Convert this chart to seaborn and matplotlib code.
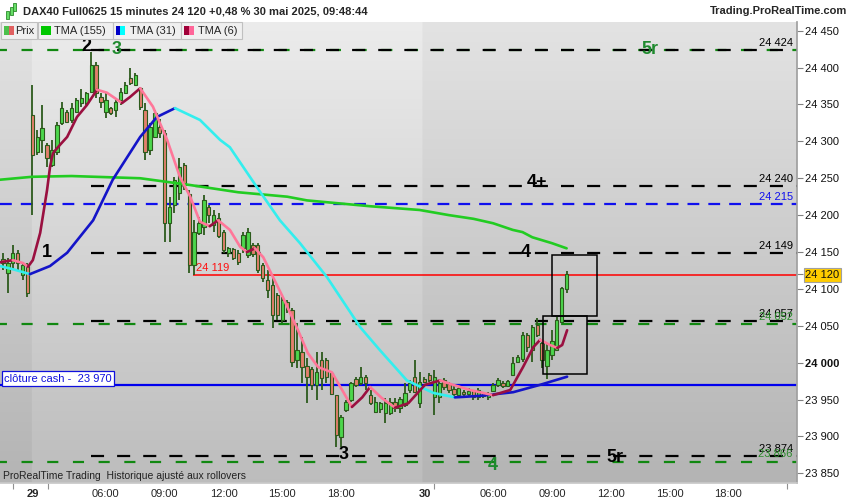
import numpy as np
import matplotlib
matplotlib.use("Agg")
import matplotlib.pyplot as plt
from matplotlib.patches import Rectangle
import seaborn as sns

# 15 minute bars, index 0 = first visible bar, last bar = 30 mai 09:45
opens = [24140, 24122, 24135, 24149, 24119, 24131, 24336, 24285, 24302, 24295,
         24268, 24285, 24325, 24340, 24329, 24340, 24352, 24352, 24367, 24403,
         24360, 24340, 24345, 24342, 24356, 24366, 24386, 24377, 24372, 24343,
         24288, 24306, 24320, 24311, 24189, 24214, 24230, 24268, 24228, 24132,
         24176, 24184, 24211, 24187, 24196, 24177, 24148, 24154, 24148, 24155,
         24146, 24160, 24159, 24132, 24112, 24105, 24092, 24058, 24082, 24071,
         24003, 24014, 23995, 23992, 23970, 24003, 24003, 23986, 23956, 23899,
         23936, 23949, 23978, 23972, 23980, 23956, 23933, 23937, 23932, 23932,
         23947, 23939, 23943, 23963, 23980, 23945, 23978, 23983, 23953, 23953,
         23976, 23971, 23964, 23956, 23960, 23957, 23961, 23953, 23959, 23953,
         23961, 23970, 23973, 23968, 23983, 24001, 24005, 24037, 24017, 24051,
         24026, 23996, 24010, 24017, 24055, 24100]
highs = [24148, 24142, 24159, 24153, 24136, 24135, 24376, 24315, 24349, 24298,
         24302, 24326, 24353, 24342, 24352, 24359, 24371, 24367, 24421, 24408,
         24366, 24366, 24347, 24359, 24372, 24380, 24399, 24393, 24374, 24352,
         24325, 24342, 24330, 24315, 24224, 24252, 24277, 24270, 24234, 24193,
         24197, 24227, 24214, 24207, 24203, 24180, 24157, 24155, 24153, 24177,
         24183, 24162, 24162, 24135, 24126, 24116, 24094, 24089, 24085, 24074,
         24054, 24035, 24006, 23994, 24014, 24014, 24006, 23987, 23956, 23929,
         23949, 23974, 23981, 23994, 23983, 23963, 23953, 23947, 23952, 23952,
         23952, 23953, 23972, 23976, 24003, 23987, 23980, 23986, 23990, 23976,
         23979, 23974, 23970, 23970, 23963, 23966, 23963, 23966, 23960, 23960,
         23972, 23979, 23975, 23976, 24008, 24010, 24041, 24040, 24051, 24060,
         24029, 24025, 24044, 24062, 24102, 24124]
lows = [24125, 24094, 24126, 24126, 24112, 24089, 24200, 24281, 24284, 24265,
        24265, 24281, 24322, 24325, 24325, 24340, 24347, 24349, 24367, 24359,
        24345, 24332, 24336, 24333, 24349, 24366, 24376, 24376, 24343, 24275,
        24281, 24306, 24305, 24164, 24164, 24203, 24220, 24234, 24122, 24119,
        24173, 24173, 24189, 24177, 24169, 24149, 24143, 24139, 24132, 24149,
        24142, 24143, 24122, 24109, 24088, 24047, 24058, 24054, 24067, 23994,
        23993, 23972, 23945, 23963, 23949, 23963, 23972, 23956, 23886, 23886,
        23933, 23947, 23967, 23970, 23963, 23943, 23932, 23932, 23918, 23929,
        23933, 23932, 23940, 23959, 23960, 23939, 23972, 23974, 23929, 23945,
        23963, 23959, 23953, 23953, 23953, 23953, 23949, 23949, 23952, 23949,
        23960, 23967, 23966, 23967, 23983, 24001, 24001, 24014, 24001, 24035,
        23993, 23978, 24004, 24017, 24055, 24095]
closes = [24135, 24135, 24149, 24135, 24132, 24094, 24281, 24306, 24318, 24277,
          24288, 24322, 24345, 24326, 24345, 24356, 24359, 24366, 24403, 24366,
          24354, 24356, 24338, 24353, 24367, 24376, 24379, 24390, 24346, 24286,
          24319, 24338, 24312, 24189, 24211, 24248, 24265, 24241, 24132, 24177,
          24189, 24220, 24200, 24200, 24172, 24153, 24155, 24142, 24136, 24173,
          24177, 24147, 24126, 24115, 24098, 24065, 24065, 24085, 24071, 24001,
          24017, 23994, 23980, 23970, 23987, 23979, 23980, 23958, 23902, 23926,
          23947, 23972, 23970, 23981, 23972, 23945, 23947, 23945, 23945, 23947,
          23938, 23951, 23959, 23972, 23960, 23974, 23974, 23976, 23980, 23972,
          23967, 23963, 23958, 23966, 23957, 23962, 23953, 23963, 23955, 23958,
          23970, 23976, 23969, 23975, 23999, 24008, 24037, 24021, 24048, 24037,
          24003, 24017, 24030, 24058, 24101, 24120]

# moving averages (bar position, price)
tma155_x = [-0.6, 6, 14, 28, 38, 48, 58, 62, 75, 85, 91, 96, 100, 104, 106, 108, 112, 115]
tma155_y = [24248, 24252, 24253, 24250, 24241, 24231, 24225, 24220, 24212, 24207,
            24200, 24195, 24189, 24180, 24177, 24170, 24162, 24155]
tma31_x = [-0.6, 2.4, 5.5, 9.6, 13.1, 18.4, 22.4, 28.0, 31.4, 35.1, 40.2, 44.3, 46.3,
           51.8, 56.5, 60.6, 66.1, 72.9, 76.9, 82.4, 87.8, 92.2, 97.3, 104.1, 109.6, 115.1]
tma31_y = [24131, 24126, 24120, 24131, 24149, 24193, 24248, 24306, 24333, 24345, 24329,
           24302, 24292, 24238, 24193, 24162, 24116, 24048, 24017, 23976, 23959, 23953,
           23955, 23960, 23970, 23981]
tma6_x = [-0.6, 2.0, 4.1, 5.1, 6.1, 7.6, 9.0, 9.6, 10.2, 11.6, 13.1, 15.1, 17.1, 19.2,
          21.2, 24.3, 25.9, 28.0, 30.6, 33.5, 36.1, 38.2, 40.2, 42.2, 43.9, 46.3, 48.4,
          49.8, 51.4, 53.1, 55.1, 57.1, 60.2, 62.2, 64.3, 67.1, 69.2, 71.2, 73.3, 74.9,
          77.3, 80.0, 82.7, 86.1, 89.2, 91.8, 95.3, 100.0, 103.5, 106.1, 108.2, 109.6,
          111.6, 113.1, 114.1, 115.1]
tma6_y = [24136, 24139, 24135, 24130, 24139, 24176, 24234, 24265, 24284, 24295, 24306,
          24333, 24349, 24370, 24366, 24352, 24360, 24372, 24347, 24302, 24252, 24225,
          24191, 24185, 24193, 24180, 24157, 24150, 24155, 24143, 24116, 24089, 24044,
          24013, 23994, 23987, 23963, 23940, 23953, 23967, 23952, 23939, 23945, 23970,
          23976, 23970, 23963, 23956, 23963, 23994, 24021, 24031, 24024, 24020, 24024,
          24044]

# horizontal levels
black_levels = [24424, 24240, 24149, 24057, 23874]
black_start = 18
green_levels = [24424, 24052, 23866]
blue_dash_levels = [24215]
cash_close = 23970
low_mark = 24119
low_mark_bar = 38.8

# rectangles drawn on the chart
box_x0 = [112.1, 110.1]
box_x1 = [121.2, 119.1]
box_lo = [24063, 23984]
box_hi = [24146, 24063]

# wave labels: text, bar, price, colour
wave_text = ["1", "2", "3", "4+", "4", "5r", "3", "4", "5r"]
wave_bar = [9, 17.1, 23.1, 109, 106.7, 132, 69.6, 100, 124.9]
wave_price = [24149, 24428, 24424, 24244, 24149, 24424, 23875, 23861, 23872]
wave_color = ["k", "k", "g", "k", "k", "g", "k", "g", "k"]

# time axis
tick_bars = [6, 21, 33, 45, 57, 69, 86, 100, 112, 124, 136, 148]
tick_labels = ["29", "06:00", "09:00", "12:00", "15:00", "18:00",
               "30", "06:00", "09:00", "12:00", "15:00", "18:00"]
minor_bars = [2, 9.2, 88, 160]
session_bounds = [5.8, 85.6]

WICK = "#2c5a1c"
UP = "#4cd64c"
DOWN = "#e2806c"
GREEN_TXT = "#1f8a2e"

sns.set_theme(style="white")
plt.rcParams["font.family"] = ["Liberation Sans", "DejaVu Sans"]
plt.rcParams["lines.scale_dashes"] = False

fig = plt.figure(figsize=(8.5, 5), dpi=100)
ax = fig.add_axes([0, 17 / 500, 797 / 850, 461 / 500])
xmin, xmax = -0.6, 162.0
ymin, ymax = 23836.9, 24461.8
ax.set_xlim(xmin, xmax)
ax.set_ylim(ymin, ymax)

# background: vertical gradient, off-session zones a bit darker
cols = np.linspace(xmin, xmax, 800)
rows = np.linspace(0, 1, 300)[:, None]
shade = np.where((cols < session_bounds[0]) | (cols > session_bounds[1]), -0.035, 0.0)
val = 0.925 - 0.185 * rows + shade[None, :]
img = np.dstack([val, val, val])
ax.imshow(img, extent=[xmin, xmax, ymin, ymax], aspect="auto", origin="upper",
          zorder=0, interpolation="bilinear")

# levels
for lv in green_levels:
    ax.hlines(lv, xmin, xmax, color="#118811", lw=1.6, linestyles=[(3, (8, 10.5))], zorder=1)
for lv in black_levels:
    ax.hlines(lv, black_start, xmax, color="black", lw=1.6, linestyles=[(0, (9.4, 9.4))], zorder=1.2)
for lv in blue_dash_levels:
    ax.hlines(lv, xmin, xmax, color="#1010ee", lw=1.6, linestyles=[(0, (8.5, 6.5))], zorder=1.2)
ax.hlines(cash_close, xmin, xmax, color="#0000ee", lw=1.6, zorder=1.3)
ax.hlines(low_mark, low_mark_bar, xmax, color="#ff0000", lw=1.1, zorder=1.3)
ax.annotate("24 119", (low_mark_bar, low_mark), xytext=(2, 1.5), textcoords="offset points",
            color="#ff1010", fontsize=8, va="bottom", ha="left", zorder=6)

# level labels near right edge
right_lbls = [(24424, "24 424", "black"), (24240, "24 240", "black"), (24215, "24 215", "#1010ee"),
              (24149, "24 149", "black"), (24057, "24 057", "black"), (24052, "24 052", "#2a8a2a"),
              (23874, "23 874", "black"), (23866, "23 866", "#2a8a2a")]
for lv, s, col in right_lbls:
    ax.annotate(s, (xmax, lv), xytext=(-3, 1.5), textcoords="offset points",
                color=col, fontsize=8, ha="right", va="bottom", zorder=6)

# candles
idx = np.arange(len(closes))
o = np.array(opens)
c = np.array(closes)
ax.vlines(idx, lows, highs, color=WICK, lw=1.3, zorder=3)
body = np.abs(c - o)
body = np.where(body < 1, 1, body)
ax.bar(idx, body, bottom=np.minimum(o, c), width=0.68,
       color=np.where(c >= o, UP, DOWN), edgecolor=WICK, linewidth=0.8, zorder=4)


def draw_trend(xs, ys, up_col, down_col):
    start = 0
    for i in range(1, len(xs)):
        last = i == len(xs) - 1
        rising = ys[i] >= ys[i - 1]
        nxt = ys[i + 1] >= ys[i] if not last else rising
        if last or nxt != rising:
            sns.lineplot(x=xs[start:i + 1], y=ys[start:i + 1], ax=ax, sort=False,
                         estimator=None, color=up_col if rising else down_col,
                         lw=1.9, legend=False, zorder=5, solid_capstyle="round")
            start = i


sns.lineplot(x=tma155_x, y=tma155_y, ax=ax, sort=False, estimator=None,
             color="#22cc22", lw=1.9, legend=False, zorder=5)
draw_trend(tma31_x, tma31_y, "#1414c8", "#33eeee")
draw_trend(tma6_x, tma6_y, "#9a1040", "#ff7799")

for x0, x1, lo, hi in zip(box_x0, box_x1, box_lo, box_hi):
    ax.add_patch(Rectangle((x0, lo), x1 - x0, hi - lo, fill=False, edgecolor="black",
                           lw=1.1, zorder=6))

for t, bx, py, col in zip(wave_text, wave_bar, wave_price, wave_color):
    ax.text(bx, py, t, color=GREEN_TXT if col == "g" else "black", fontsize=13,
            fontweight="bold", ha="center", va="center", zorder=7)

# axes
ax.set_xlabel("")
ax.set_ylabel("")
ax.yaxis.tick_right()
yt = list(range(23850, 24451, 50)) + [closes[-1]]
ax.set_yticks(yt)
ax.set_yticklabels([f"{v:,}".replace(",", " ") for v in yt])
for lab in ax.get_yticklabels():
    if lab.get_text() == "24 000":
        lab.set_fontweight("bold")
    if lab.get_text() == f"{closes[-1]:,}".replace(",", " "):
        lab.set_bbox(dict(facecolor="#ffcc00", edgecolor="#a0a0a0", boxstyle="square,pad=0.15", lw=0.8))
ax.tick_params(axis="y", right=True, direction="out", length=4, width=0.8, color="#808080",
               labelsize=8, pad=2, labelcolor="#111111")
ax.set_xticks(tick_bars)
ax.set_xticklabels(tick_labels)
for lab in ax.get_xticklabels():
    if lab.get_text() in ("29", "30"):
        lab.set_fontweight("bold")
        lab.set_fontsize(9)
ax.set_xticks(minor_bars, minor=True)
ax.tick_params(axis="x", which="major", length=0, labelsize=8, pad=4)
ax.tick_params(axis="x", which="minor", bottom=True, length=4, width=0.8, color="#909090")
for sp in ["top", "left"]:
    ax.spines[sp].set_visible(False)
ax.spines["right"].set_color("#a0a0a0")
ax.spines["bottom"].set_color("#c8c8c8")
ax.grid(False)


def fx(px):
    return px / 850


def fy(py):
    return 1 - py / 500


# header
fig.text(fx(23), fy(11), "DAX40 Full0625 15 minutes 24 120 +0,48 % 30 mai 2025, 09:48:44",
         fontsize=8, fontweight="bold", va="center", ha="left")
fig.text(fx(847), fy(11), "Trading.ProRealTime.com", fontsize=8, fontweight="bold",
         va="center", ha="right")
for cx, y0, y1, col in [(7, 11, 19, "#2c8a2c"), (11, 7, 15, "#2c8a2c"), (15, 3, 11, "#2c8a2c")]:
    fig.add_artist(Rectangle((fx(cx - 1.5), fy(y1)), 3 / 850, (y1 - y0) / 500,
                             transform=fig.transFigure, facecolor="#66dd66", edgecolor=col, lw=0.6))

# legend row
legend_items = [(1, 37, "Prix", ("#4cc04c", "#e06060"), 15),
                (38, 113, "TMA (155)", ("#00c800", "#00c800"), 54),
                (113, 181, "TMA (31)", ("#0000c8", "#00ffff"), 130),
                (181, 242, "TMA (6)", ("#a00038", "#ff6699"), 198)]
for x0, x1, label, (c1, c2), tx in legend_items:
    fig.add_artist(Rectangle((fx(x0), fy(39)), (x1 - x0) / 850, 17 / 500, transform=fig.transFigure,
                             facecolor="#f0f0f0", edgecolor="#c0c0c0", lw=0.8, zorder=10))
    fig.add_artist(Rectangle((fx(x0 + 2.5), fy(35)), 5 / 850, 9 / 500, transform=fig.transFigure,
                             facecolor=c1, edgecolor="none", zorder=11))
    fig.add_artist(Rectangle((fx(x0 + 7.5), fy(35)), 5 / 850, 9 / 500, transform=fig.transFigure,
                             facecolor=c2, edgecolor="none", zorder=11))
    fig.text(fx(tx), fy(30.5), label, fontsize=8, va="center", ha="left", zorder=12)

fig.text(fx(4), fy(378.5), "clôture cash -  23 970", fontsize=8, color="#1010dd", va="center",
         ha="left", zorder=12,
         bbox=dict(facecolor="white", edgecolor="#1010dd", boxstyle="square,pad=0.2", lw=0.9))
fig.text(fx(3), fy(476), "ProRealTime Trading  Historique ajusté aux rollovers", fontsize=7.5,
         color="#222222", va="center", ha="left", zorder=12)

fig.savefig("out.png", dpi=100)
